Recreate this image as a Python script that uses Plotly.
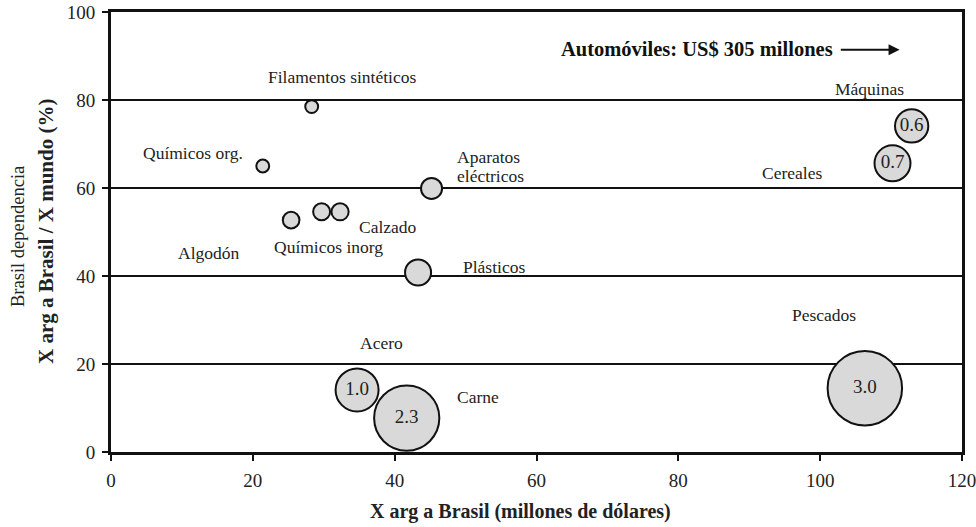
import plotly.graph_objects as go

# Data
products = ["Filamentos sintéticos", "Químicos org.", "Algodón", "Químicos inorg", "Calzado",
            "Aparatos eléctricos", "Plásticos", "Acero", "Carne", "Máquinas", "Cereales", "Pescados"]
x_exports = [28.3, 21.4, 25.4, 29.7, 32.3, 45.2, 43.3, 34.7, 41.7, 112.9, 110.2, 106.3]
y_dependence = [78.5, 65.0, 52.7, 54.6, 54.6, 59.9, 40.8, 14.1, 7.7, 74.1, 65.6, 14.5]
bubble_value = [0.09, 0.09, 0.15, 0.156, 0.16, 0.24, 0.366, 1.0, 2.3, 0.6, 0.7, 3.0]
bubble_text = ["", "", "", "", "", "", "", "1.0", "2.3", "0.6", "0.7", "3.0"]

# label anchors (data coords)
label_text = ["Filamentos sintéticos", "Químicos org.", "Algodón", "Químicos inorg", "Calzado",
              "Aparatos<br>eléctricos", "Plásticos", "Acero", "Carne", "Máquinas", "Cereales", "Pescados"]
label_x = [32.6, 11.5, 13.8, 30.6, 39.1, 48.5, 49.4, 38.1, 51.7, 107.0, 96.0, 100.6]
label_y = [85.2, 68.0, 45.2, 46.6, 51.1, 65.0, 42.0, 24.8, 12.5, 82.5, 63.4, 31.1]
label_anchor = ["center", "center", "center", "center", "center", "left", "left", "center",
                "center", "center", "center", "center"]

x_ticks = [0, 20, 40, 60, 80, 100, 120]
y_ticks = [0, 20, 40, 60, 80, 100]

y_title_lines = ["Brasil dependencia", "<b>X arg a Brasil / X mundo (%)</b>"]
x_title = "<b>X arg a Brasil (millones de dólares)</b>"

FONT = "Liberation Serif"
TXT = "#222222"
DARK = "#111111"

W, H = 976, 527
ML, MT, MR, MB = 111, 12, 14, 75
PW = W - ML - MR
PH = H - MT - MB
LINE_GAP = 19  # px between lines of a two-line label

fig = go.Figure()
fig.add_trace(go.Scatter(
    x=x_exports, y=y_dependence, mode="markers+text",
    text=bubble_text, textposition="middle center",
    textfont=dict(family=FONT, size=19, color=TXT),
    marker=dict(size=bubble_value, sizemode="area", sizeref=1 / 924.5, sizemin=0,
                color="#d9d9d9", line=dict(color=DARK, width=2), opacity=1),
    hoverinfo="skip", showlegend=False, cliponaxis=False,
))

for t, lx, ly, anc in zip(label_text, label_x, label_y, label_anchor):
    lines = t.split("<br>")
    n = len(lines)
    for i, line in enumerate(lines):
        shift = ((n - 1) / 2 - i) * LINE_GAP
        fig.add_annotation(x=lx, y=ly, xref="x", yref="y", text=line, showarrow=False,
                           xanchor=anc, yanchor="middle", yshift=shift,
                           font=dict(family=FONT, size=17.5, color=TXT))

fig.add_annotation(x=82.7, y=91.7, xref="x", yref="y",
                   text="<b>Automóviles: US$ 305 millones</b>", showarrow=False,
                   xanchor="center", yanchor="middle",
                   font=dict(family=FONT, size=20.5, color=DARK))
fig.add_annotation(x=111.2, y=91.4, ax=102.7, ay=91.4, xref="x", yref="y", axref="x", ayref="y",
                   text="", showarrow=True, arrowhead=2, arrowsize=1.1, arrowwidth=2,
                   arrowcolor=DARK)

# axis titles as annotations
for line, cx, cy, fs in zip(y_title_lines, [18, 46], [237, 232], [18.5, 21]):
    fig.add_annotation(x=-(ML - cx) / PW, y=(H - MB - cy) / PH, xref="paper", yref="paper",
                       text=line, textangle=-90, showarrow=False,
                       xanchor="center", yanchor="middle",
                       font=dict(family=FONT, size=fs, color=TXT))
fig.add_annotation(x=(520 - ML) / PW, y=-(511 - 452) / PH, xref="paper", yref="paper",
                   text=x_title, showarrow=False, xanchor="center", yanchor="middle",
                   font=dict(family=FONT, size=20, color=TXT))

fig.update_layout(
    width=W, height=H,
    margin=dict(l=ML, r=MR, t=MT, b=MB),
    paper_bgcolor="white", plot_bgcolor="white",
    font=dict(family=FONT, size=17, color=TXT),
    xaxis=dict(range=[0, 120], tickvals=x_ticks, showgrid=False, zeroline=False, automargin=False,
               showline=True, linecolor=DARK, linewidth=3, mirror=True,
               ticks="outside", ticklen=6, tickwidth=2, tickcolor=DARK, ticklabelstandoff=3,
               ticklabeloverflow="allow",
               tickfont=dict(family=FONT, size=19, color=TXT)),
    yaxis=dict(range=[0, 100], tickvals=y_ticks, showgrid=True, gridcolor=DARK, gridwidth=2,
               zeroline=False, automargin=False,
               showline=True, linecolor=DARK, linewidth=3, mirror=True,
               ticks="outside", ticklen=6, tickwidth=2, tickcolor=DARK, ticklabelstandoff=3,
               ticklabeloverflow="allow",
               tickfont=dict(family=FONT, size=19, color=TXT)),
)

fig.write_html("out.html", config={"displayModeBar": False},
               post_script="document.body.style.margin='0';document.body.style.overflow='hidden';")
